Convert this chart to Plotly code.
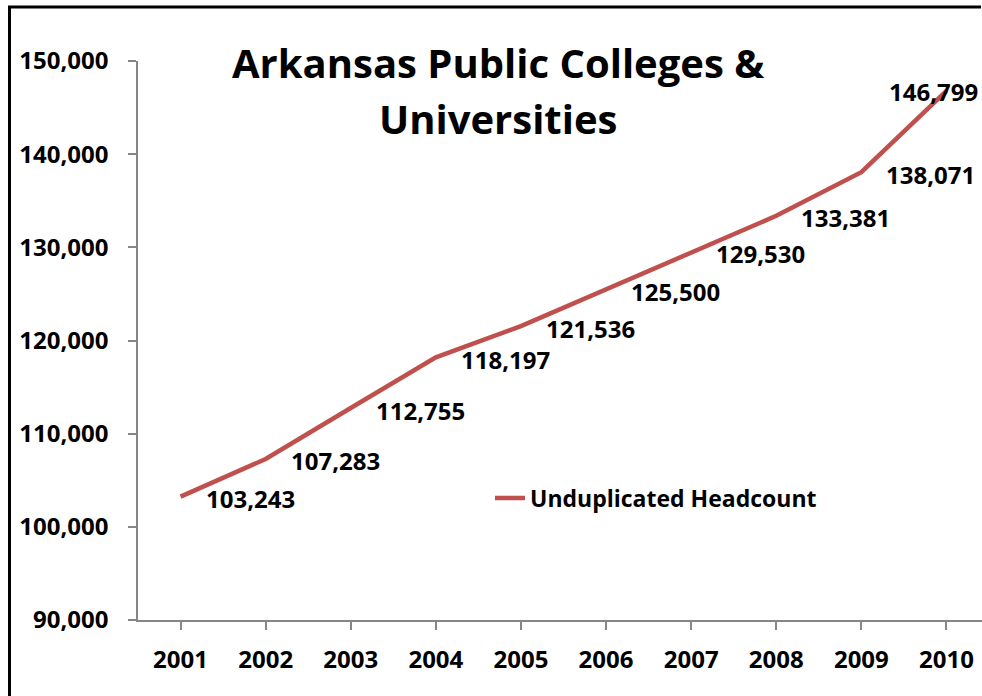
import plotly.graph_objects as go

years = ["2001", "2002", "2003", "2004", "2005", "2006", "2007", "2008", "2009", "2010"]
headcount = [103243, 107283, 112755, 118197, 121536, 125500, 129530, 133381, 138071, 146799]
series_name = "Unduplicated Headcount"
title_lines = ["Arkansas Public Colleges &", "Universities"]
y_ticks = [90000, 100000, 110000, 120000, 130000, 140000, 150000]

FONT = "Open Sans"
LINE_COLOR = "#C0504D"
AXIS_COLOR = "#868686"

W, H = 982, 696
ML, MR, MT, MB = 138, 0, 61, 76
plot_w = W - ML - MR
plot_h = H - MT - MB
cat_px = 85.0


def px_x(px):
    return (px - ML) / plot_w


def px_y(py):
    return (H - MB - py) / plot_h


fig = go.Figure()
fig.add_trace(go.Scatter(
    x=list(range(len(years))), y=headcount, mode="lines", name=series_name,
    line=dict(color=LINE_COLOR, width=4.5),
))

annotations = []
for i, v in enumerate(headcount):
    last = i == len(headcount) - 1
    annotations.append(dict(
        x=i, y=v, xref="x", yref="y", text=f"{v:,}", showarrow=False,
        xanchor="left", yanchor="middle",
        xshift=(-59 if last else 23), yshift=(-1 if last else -2),
        font=dict(family=FONT, size=24, color="black", weight="bold"),
    ))

for line_text, cy in zip(title_lines, [62, 118]):
    annotations.append(dict(
        x=px_x(498), y=px_y(cy), xref="paper", yref="paper",
        text=line_text, showarrow=False, xanchor="center", yanchor="middle",
        font=dict(family=FONT, size=40, color="black", weight="bold"),
    ))

fig.update_layout(
    annotations=annotations,
    width=W, height=H,
    margin=dict(l=ML, r=MR, t=MT, b=MB, pad=0),
    paper_bgcolor="white", plot_bgcolor="white",
    font=dict(family=FONT, color="black"),
    showlegend=True,
    legend=dict(
        x=px_x(490), y=px_y(498), xanchor="left", yanchor="middle",
        bgcolor="rgba(0,0,0,0)", font=dict(family=FONT, size=23, color="black", weight="bold"),
    ),
    xaxis=dict(
        range=[-0.5, -0.5 + (plot_w - 1) / cat_px],
        tickmode="array", tickvals=list(range(len(years))), ticktext=years,
        showline=True, linecolor=AXIS_COLOR, linewidth=1.5,
        ticks="outside", ticklen=8, tickcolor=AXIS_COLOR, tickwidth=1.5,
        tickson="boundaries", showgrid=False, zeroline=False,
        tickfont=dict(family=FONT, size=24, color="black", weight="bold"),
        ticklabelstandoff=9,
    ),
    yaxis=dict(
        range=[90000, 150000],
        tickmode="array", tickvals=y_ticks, ticktext=[f"{t:,}" for t in y_ticks],
        showline=True, linecolor=AXIS_COLOR, linewidth=1.5,
        ticks="outside", ticklen=8, tickcolor=AXIS_COLOR, tickwidth=1.5,
        showgrid=False, zeroline=False,
        tickfont=dict(family=FONT, size=24, color="black", weight="bold"),
        ticklabelstandoff=15,
    ),
    shapes=[
        dict(type="line", xref="paper", yref="paper",
             x0=px_x(9.5), x1=px_x(9.5), y0=px_y(H), y1=px_y(7),
             line=dict(color="black", width=3), layer="above"),
        dict(type="line", xref="paper", yref="paper",
             x0=px_x(8), x1=px_x(W - 1), y0=px_y(7), y1=px_y(7),
             line=dict(color="black", width=3), layer="above"),
    ],
)

fig.write_html(
    "out.html",
    config={"displayModeBar": False},
    post_script="document.documentElement.style.overflow='hidden';document.body.style.overflow='hidden';document.body.style.margin='0';",
)
